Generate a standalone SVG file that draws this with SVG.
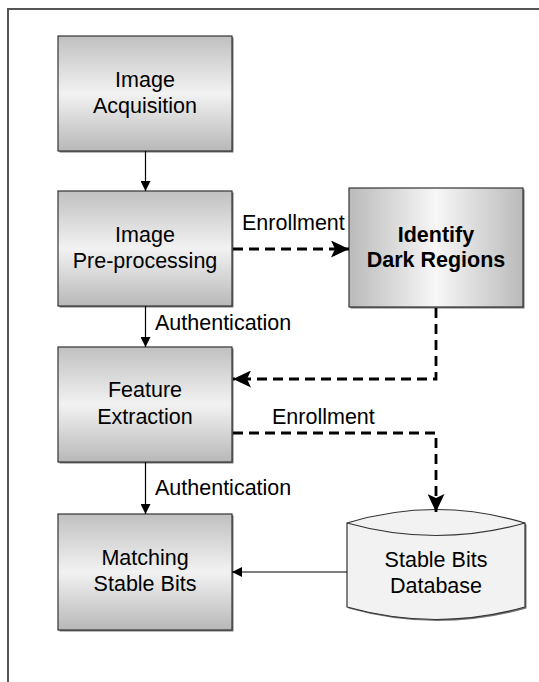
<svg xmlns="http://www.w3.org/2000/svg" width="539" height="682" viewBox="0 0 539 682">
<defs>
<linearGradient id="gv" x1="0" y1="0" x2="0" y2="1">
<stop offset="0" stop-color="#c0c0c0"/>
<stop offset="0.5" stop-color="#f2f2f2"/>
<stop offset="1" stop-color="#b8b8b8"/>
</linearGradient>
<linearGradient id="gh" x1="0" y1="0" x2="1" y2="0">
<stop offset="0" stop-color="#bababa"/>
<stop offset="0.5" stop-color="#f7f7f7"/>
<stop offset="1" stop-color="#bababa"/>
</linearGradient>
<marker id="as" markerWidth="10" markerHeight="10" refX="10" refY="5" orient="auto" markerUnits="userSpaceOnUse">
<path d="M0,0 L10,5 L0,10 Z" fill="#000"/>
</marker>
<marker id="ab" markerWidth="18" markerHeight="17" refX="18" refY="8.5" orient="auto" markerUnits="userSpaceOnUse">
<path d="M0,0 L18,8.5 L0,17 L4,8.5 Z" fill="#000"/>
</marker>
</defs>
<style>
.box{stroke:#333;stroke-width:1.2}
.sh{fill:#777}
.t{font-family:"Liberation Sans",Arial,sans-serif;font-size:21.5px;fill:#000;text-anchor:middle}
.lbl{font-family:"Liberation Sans",Arial,sans-serif;font-size:21.5px;fill:#000}
.b{font-weight:bold}
.solid{stroke:#000;stroke-width:1.2;fill:none}
.dash{stroke:#000;stroke-width:2.8;fill:none;stroke-dasharray:10 6}
</style>
<g id="frame">
<path d="M8,682 V9 H539" fill="none" stroke="#555" stroke-width="2"/>
</g>
<g id="n-acq">
<rect class="sh" x="59.5" y="37.5" width="174" height="115"/>
<rect class="box" x="58" y="36" width="174" height="115" fill="url(#gv)"/>
<text class="t" x="145" y="87">Image</text>
<text class="t" x="145" y="113">Acquisition</text>
</g>
<g id="n-pre">
<rect class="sh" x="59.5" y="192.5" width="174" height="115"/>
<rect class="box" x="58" y="191" width="174" height="115" fill="url(#gv)"/>
<text class="t" x="145" y="242">Image</text>
<text class="t" x="145" y="268">Pre-processing</text>
</g>
<g id="n-dark">
<rect class="sh" x="350.5" y="189.5" width="174" height="119"/>
<rect class="box" x="349" y="188" width="174" height="119" fill="url(#gh)"/>
<text class="t b" x="436" y="242">Identify</text>
<text class="t b" x="436" y="267">Dark Regions</text>
</g>
<g id="n-feat">
<rect class="sh" x="59.5" y="348.5" width="174" height="115"/>
<rect class="box" x="58" y="347" width="174" height="115" fill="url(#gv)"/>
<text class="t" x="145" y="397">Feature</text>
<text class="t" x="145" y="424">Extraction</text>
</g>
<g id="n-match">
<rect class="sh" x="59.5" y="515.5" width="174" height="116"/>
<rect class="box" x="58" y="514" width="174" height="116" fill="url(#gv)"/>
<text class="t" x="145" y="565">Matching</text>
<text class="t" x="145" y="591">Stable Bits</text>
</g>
<g id="n-db">
<path d="M348.5,524.5 Q437.5,497.5 526.5,524.5 V608.5 Q437.5,633.5 348.5,608.5 Z" fill="#777"/>
<path d="M347,523 Q436,496 525,523 V607 Q436,632 347,607 Z" fill="#f2f2f2" stroke="#333" stroke-width="1.2"/>
<path d="M347,523 Q436,548 525,523" fill="none" stroke="#333" stroke-width="1.2"/>
<text class="t" x="436" y="567">Stable Bits</text>
<text class="t" x="436" y="593">Database</text>
</g>
<g id="connectors">
<line class="solid" x1="145.5" y1="151" x2="145.5" y2="191" marker-end="url(#as)"/>
<line class="solid" x1="145.5" y1="306" x2="145.5" y2="347" marker-end="url(#as)"/>
<line class="solid" x1="145.5" y1="462" x2="145.5" y2="514" marker-end="url(#as)"/>
<line class="solid" x1="347" y1="572" x2="232" y2="572" marker-end="url(#as)"/>
<path class="dash" d="M233,249 H349" marker-end="url(#ab)"/>
<path class="dash" d="M436,308 V379 H233" marker-end="url(#ab)"/>
<path class="dash" d="M233,433 H436 V512" marker-end="url(#ab)"/>
<text class="lbl" x="242" y="230">Enrollment</text>
<text class="lbl" x="155" y="330">Authentication</text>
<text class="lbl" x="272" y="424">Enrollment</text>
<text class="lbl" x="155" y="495">Authentication</text>
</g>
</svg>
